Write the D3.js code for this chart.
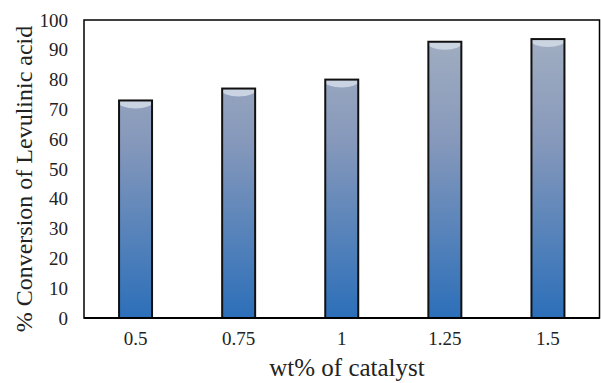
<!DOCTYPE html>
<html><head><meta charset="utf-8">
<script src="https://cdn.jsdelivr.net/npm/d3@7"></script>
<style>body{margin:0;background:#fff}svg{display:block}
text{font-family:"Liberation Serif","Times New Roman","DejaVu Serif",serif}</style>
</head><body>
<svg id="c" width="601" height="383"></svg>
<script>
const categories = ["0.5","0.75","1","1.25","1.5"];
const values = [73, 77, 80, 92.7, 93.6];
const yTicks = [0,10,20,30,40,50,60,70,80,90,100];
const xTitle = "wt% of catalyst";
const yTitle = "% Conversion of Levulinic acid";

const svg = d3.select("#c");
const m = {l:84, r:1.5, t:20, b:65};
const W = 601, H = 383;
const x = d3.scaleBand().domain(categories).range([m.l, W-m.r]).paddingInner(0.68).paddingOuter(0.34);
const y = d3.scaleLinear().domain([0,100]).range([H-m.b, m.t]);

const defs = svg.append("defs");
const g = defs.append("linearGradient").attr("id","bg")
  .attr("gradientUnits","userSpaceOnUse").attr("x1",0).attr("x2",0).attr("y1",y(100)).attr("y2",y(0));
g.append("stop").attr("offset","0%").attr("stop-color","#a5b1c2");
g.append("stop").attr("offset","40%").attr("stop-color","#8799bb");
g.append("stop").attr("offset","100%").attr("stop-color","#2c6fb9");

values.forEach((d,i)=>{
  defs.append("clipPath").attr("id","cp"+i).append("rect")
    .attr("x",x(categories[i])).attr("y",y(d)).attr("width",x.bandwidth()).attr("height",y(0)-y(d));
});

svg.append("rect").attr("x",m.l).attr("y",y(100)).attr("width",W-m.r-m.l).attr("height",y(0)-y(100))
  .attr("fill","none").attr("stroke","#000").attr("stroke-width",1.5);

const bars = svg.append("g");
bars.selectAll("rect.bar").data(values).join("rect").attr("class","bar")
  .attr("x",(d,i)=>x(categories[i])).attr("y",d=>y(d))
  .attr("width",x.bandwidth()).attr("height",d=>y(0)-y(d))
  .attr("fill","url(#bg)");
bars.selectAll("ellipse.top").data(values).join("ellipse").attr("class","top")
  .attr("clip-path",(d,i)=>`url(#cp${i})`)
  .attr("cx",(d,i)=>x(categories[i])+x.bandwidth()/2).attr("cy",d=>y(d)+1)
  .attr("rx",x.bandwidth()/2+1).attr("ry",7)
  .attr("fill","#cfd8e4").attr("opacity",0.9);
bars.selectAll("rect.out").data(values).join("rect").attr("class","out")
  .attr("x",(d,i)=>x(categories[i])).attr("y",d=>y(d))
  .attr("width",x.bandwidth()).attr("height",d=>y(0)-y(d))
  .attr("fill","none").attr("stroke","#111").attr("stroke-width",2);

svg.append("line").attr("x1",m.l).attr("x2",W-m.r).attr("y1",y(0)).attr("y2",y(0)).attr("stroke","#000").attr("stroke-width",2);

const yAxis = svg.append("g").attr("transform",`translate(${m.l},0)`)
  .call(d3.axisLeft(y).tickValues(yTicks).tickSize(0).tickPadding(16));
yAxis.select(".domain").remove();
yAxis.attr("font-family",null).attr("font-size",null);
yAxis.selectAll("text").style("font-size","19px").attr("fill","#222");

const xAxis = svg.append("g").attr("transform",`translate(0,${y(0)})`)
  .call(d3.axisBottom(x).tickSize(0).tickPadding(14));
xAxis.select(".domain").remove();
xAxis.attr("font-family",null).attr("font-size",null);
xAxis.selectAll("text").style("font-size","19px").attr("fill","#222");

svg.append("text").attr("x",347).attr("y",376).attr("text-anchor","middle")
  .style("font-size","25px").attr("fill","#222").text(xTitle);
svg.append("text").attr("transform",`translate(32,${(y(0)+y(100))/2+10}) rotate(-90)`).attr("text-anchor","middle")
  .style("font-size","24px").attr("fill","#222").text(yTitle);
</script>
</body></html>
